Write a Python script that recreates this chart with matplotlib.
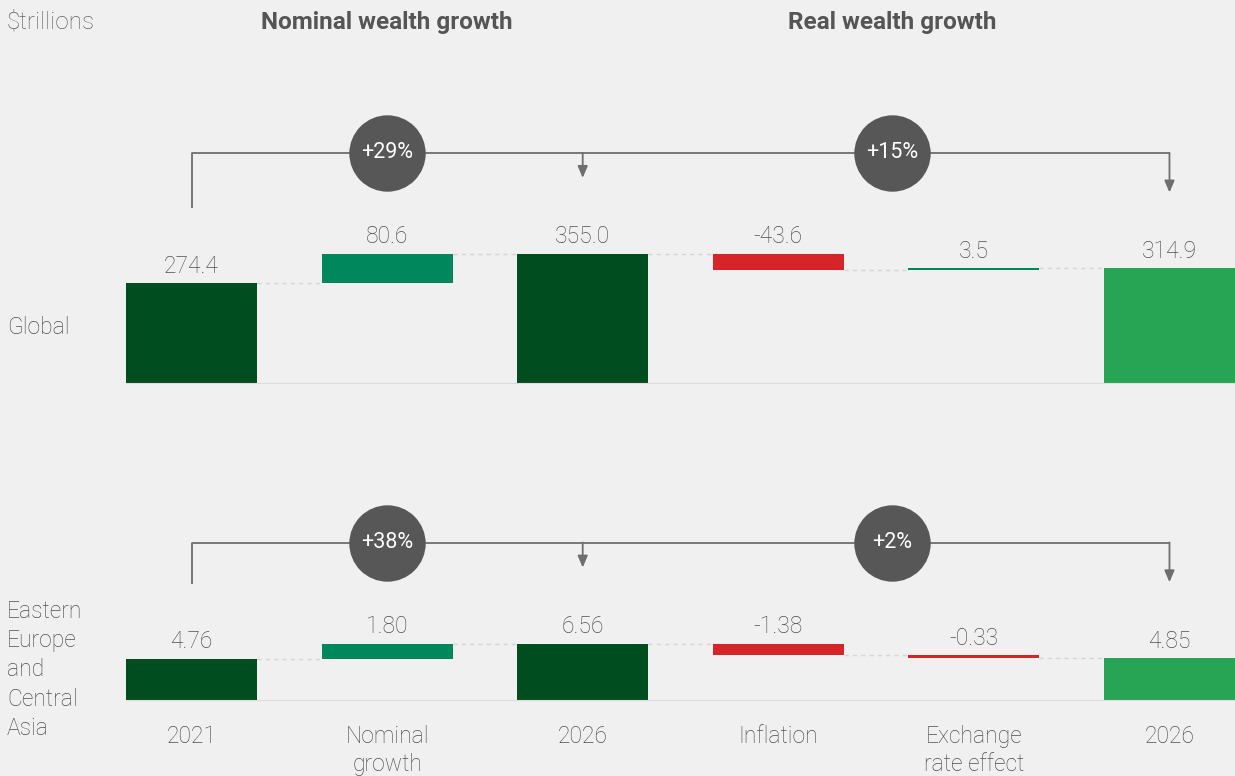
import numpy as np
import matplotlib
matplotlib.use("Agg")
import matplotlib.pyplot as plt

plt.rcParams['font.family'] = ['Roboto', 'DejaVu Sans']
plt.rcParams['font.weight'] = 'light'

# data
categories = ['2021', 'Nominal\ngrowth', '2026', 'Inflation', 'Exchange\nrate effect', '2026']
kinds = ['total', 'delta', 'total', 'delta', 'delta', 'total']
global_vals = [274.4, 80.6, 355.0, -43.6, 3.5, 314.9]
global_labels = ['274.4', '80.6', '355.0', '-43.6', '3.5', '314.9']
eeca_vals = [4.76, 1.80, 6.56, -1.38, -0.33, 4.85]
eeca_labels = ['4.76', '1.80', '6.56', '-1.38', '-0.33', '4.85']
global_pct = ['+29%', '+15%']
eeca_pct = ['+38%', '+2%']
regions = ['Global', 'Eastern\nEurope\nand\nCentral\nAsia']

BG = '#eff0ef'
DARK = '#004d20'
TEAL = '#00875c'
RED = '#d62428'
LIGHT = '#27a555'
GREY_TXT = '#4f4f4f'
LINE = '#6e6e6e'

W, H = 1235, 776
fig = plt.figure(figsize=(W / 100, H / 100), dpi=100, facecolor=BG)


def px_ax(left, right, bottom, top):
    return fig.add_axes([left / W, 1 - bottom / H, (right - left) / W, (bottom - top) / H])


def waterfall(ax, vals, labels, pct, ymax):
    ax.set_facecolor('none')
    ax.set_xlim(-0.335, 5.335)
    ax.set_ylim(0, ymax)
    for s in ['top', 'right', 'left']:
        ax.spines[s].set_visible(False)
    ax.spines['bottom'].set_color('#dcdcdc')
    ax.set_yticks([])
    px = ymax / ax.get_window_extent().height  # data units per pixel

    x = np.arange(len(vals))
    level = 0
    tops = []
    ends = []
    n_total = 0
    for i, (v, k) in enumerate(zip(vals, kinds)):
        if k == 'total':
            n_total += 1
            c = LIGHT if n_total == 3 else DARK
            ax.bar(x[i], v, width=0.67, bottom=0, color=c)
            top = v
            level = v
        else:
            c = TEAL if v >= 0 else RED
            ax.bar(x[i], v, width=0.67, bottom=level, color=c)
            top = max(level, level + v)
            level = level + v
        tops.append(top)
        ends.append(level)
        ax.annotate(labels[i], (x[i], top), xytext=(0, 4), textcoords='offset points',
                    ha='center', va='bottom', fontsize=16.5, color=GREY_TXT)

    # dashed connectors
    for i in range(len(vals) - 1):
        ax.plot([x[i] + 0.335, x[i + 1] - 0.335], [ends[i], ends[i]],
                ls=(0, (3, 3)), color='#d6d6d6', lw=1)

    # bracket
    br = max(tops) + 101 * px
    ax.plot([x[0], x[0], x[5]], [tops[0] + 75 * px, br, br],
            color=LINE, lw=1.3, solid_capstyle='butt')
    for j in [2, 5]:
        ax.annotate('', xy=(x[j], tops[j] + 76 * px), xytext=(x[j], br),
                    arrowprops=dict(arrowstyle='-|>,head_width=0.3,head_length=0.7',
                                    color=LINE, lw=1.3, shrinkA=0, shrinkB=0))
    for cx, t in zip([1.0, 3.58], pct):
        ax.plot(cx, br, 'o', ms=55, color='#575757', mec='none', zorder=5)
        ax.text(cx, br, t, ha='center', va='center', color='white', fontsize=15.5,
                fontweight='normal', zorder=6)


ax1 = px_ax(126, 1235, 383, 40)
waterfall(ax1, global_vals, global_labels, global_pct, 943)
ax1.set_xticks([])

ax2 = px_ax(126, 1235, 700, 440)
waterfall(ax2, eeca_vals, eeca_labels, eeca_pct, 30.2)
ax2.set_xticks(np.arange(len(categories)))
ax2.set_xticklabels(categories, fontsize=16.5, color=GREY_TXT, va='top', linespacing=1.3)
ax2.tick_params(axis='x', length=0, pad=18)

fig.text(7 / W, 1 - 22 / H, '$trillions', fontsize=17.5, color='#666666', va='center', ha='left')
fig.text(387 / W, 1 - 22 / H, 'Nominal wealth growth', fontsize=17.5, color='#555555',
         fontweight='bold', va='center', ha='center')
fig.text(892 / W, 1 - 22 / H, 'Real wealth growth', fontsize=17.5, color='#555555',
         fontweight='bold', va='center', ha='center')
fig.text(7 / W, 1 - 327 / H, regions[0], fontsize=16.5, color=GREY_TXT, va='center', ha='left')
fig.text(7 / W, 1 - 670 / H, regions[1], fontsize=16.5, color=GREY_TXT, va='center', ha='left',
         linespacing=1.35)

fig.savefig('out.png', dpi=100, facecolor=BG)
